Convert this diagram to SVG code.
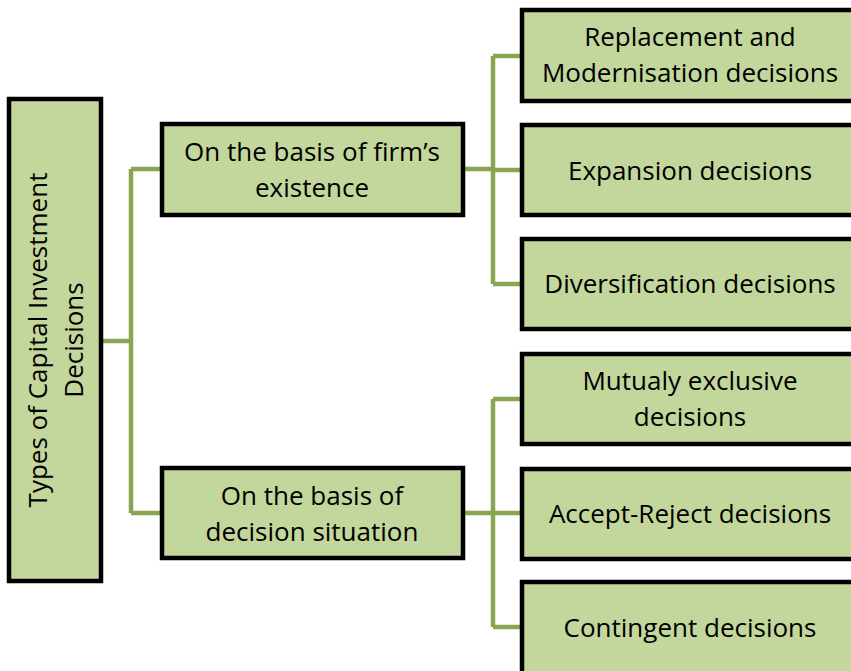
<svg xmlns="http://www.w3.org/2000/svg" width="851" height="671" viewBox="0 0 851 671">
<style>
.box{fill:#c3d69b;stroke:#000;stroke-width:4.5}
.t{font-family:"Open Sans","Noto Sans","DejaVu Sans",sans-serif;font-size:26px;fill:#000;text-anchor:middle}
.c{fill:none;stroke:#8aa54f;stroke-width:4.5}
</style>
<rect width="851" height="671" fill="#fff"/>
<g id="connectors">
<path class="c" d="M103,341 H131 M131,169 V513 M131,169 H162 M131,513 H162"/>
<path class="c" d="M463,169 H493 M493,56 V284 M493,56 H522 M493,170 H522 M493,284 H522"/>
<path class="c" d="M463,513 H493 M493,399 V627 M493,399 H522 M493,513 H522 M493,627 H522"/>
</g>
<g id="root">
<rect class="box" x="9" y="99" width="92" height="482"/>
<text class="t" transform="translate(46.5,340) rotate(-90)">Types of Capital Investment</text>
<text class="t" transform="translate(82.5,340) rotate(-90)">Decisions</text>
</g>
<g id="firm">
<rect class="box" x="162" y="124" width="301" height="91"/>
<text class="t" x="312" y="161">On the basis of firm’s</text>
<text class="t" x="312" y="197">existence</text>
</g>
<g id="situation">
<rect class="box" x="162" y="468" width="301" height="90"/>
<text class="t" x="312" y="505">On the basis of</text>
<text class="t" x="312" y="541">decision situation</text>
</g>
<g id="replacement">
<rect class="box" x="522" y="10" width="340" height="91"/>
<text class="t" x="690" y="46">Replacement and</text>
<text class="t" x="690" y="82">Modernisation decisions</text>
</g>
<g id="expansion">
<rect class="box" x="522" y="125" width="340" height="90"/>
<text class="t" x="690" y="179.5">Expansion decisions</text>
</g>
<g id="diversification">
<rect class="box" x="522" y="239" width="340" height="90"/>
<text class="t" x="690" y="293">Diversification decisions</text>
</g>
<g id="mutual">
<rect class="box" x="522" y="354" width="340" height="90"/>
<text class="t" x="690" y="390">Mutualy exclusive</text>
<text class="t" x="690" y="426">decisions</text>
</g>
<g id="accept">
<rect class="box" x="522" y="469" width="340" height="90"/>
<text class="t" x="690" y="523">Accept-Reject decisions</text>
</g>
<g id="contingent">
<rect class="box" x="522" y="582" width="340" height="100"/>
<text class="t" x="690" y="637">Contingent decisions</text>
</g>
</svg>
